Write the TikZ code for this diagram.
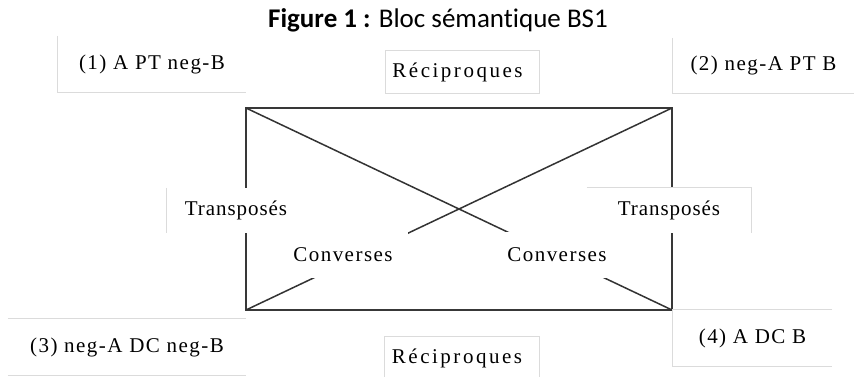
\documentclass[tikz,border=0pt]{standalone}
\usepackage{fontspec}
\setmainfont{Liberation Serif}[LetterSpace=7]
\newfontfamily\titlefont{Carlito}[RawFeature=-liga]
\begin{document}
\begin{tikzpicture}[x=1pt,y=-1pt,
  lbl/.style={font=\fontsize{21}{24}\selectfont, inner sep=0pt, fill=white},
  narrow/.style={font=\fontsize{21}{24}\selectfont\addfontfeatures{LetterSpace=4.5}},
  wide/.style={font=\fontsize{21}{24}\selectfont\addfontfeatures{LetterSpace=12}},
  frame/.style={draw=black!78, line width=2pt},
  diag/.style={draw=black!80, line width=1.5pt},
  faint/.style={draw=black!14, line width=1.2pt}]
\useasboundingbox[fill=white] (0,0) rectangle (854,377);
% title
\node[anchor=base, inner sep=0pt, font=\titlefont\fontsize{27}{30}\selectfont] (title) at (438,28) {\textbf{Figure 1 :} Bloc sémantique BS1};
% corners
\coordinate (TL) at (246,108);
\coordinate (TR) at (672,108);
\coordinate (BL) at (246,310);
\coordinate (BR) at (672,310);
\draw[frame] (TL) -- (TR) -- (BR) -- (BL) -- cycle;
\draw[diag] (TL) -- (BR);
\draw[diag] (TR) -- (BL);
% boxes
\node[lbl, minimum width=188, minimum height=56] (b1) at (152,64) {(1) A PT neg-B};
\node[lbl, wide, minimum width=153, minimum height=42] (rt) at (462.5,72) {Réciproques\kern10pt};
\node[lbl, minimum width=181, minimum height=55] (b2) at (763.5,65.5) {(2) neg-A PT B};
\node[lbl, narrow, minimum width=138, minimum height=45] (tl) at (236,210.5) {Transposés};
\node[lbl, narrow, minimum width=164, minimum height=45] (tr) at (669,210.5) {Transposés};
\node[lbl, minimum width=130, minimum height=46] (c1) at (343,255) {Converses};
\node[lbl, minimum width=130, minimum height=46] (c2) at (557,255) {Converses};
\node[lbl, minimum width=238, minimum height=56] (b3) at (127,347) {(3) neg-A DC neg-B};
\node[lbl, minimum width=159, minimum height=56] (b4) at (752.5,338) {(4) A DC B};
\node[lbl, wide, minimum width=154, minimum height=42] (rb) at (462,358) {Réciproques\kern10pt};
% faint borders
\draw[faint] (b1.north west) -- (b1.south west) -- (b1.south east);
\draw[faint] (rt.north west) rectangle (rt.south east);
\draw[faint] (b2.north west) -- (b2.south west) -- (b2.south east);
\draw[faint] (tl.north west) -- (tl.south west);
\draw[faint] (tr.north west) -- (tr.north east) -- (tr.south east);
\draw[faint] (b3.north west) -- (b3.north east);
\draw[faint] (b3.south west) -- (b3.south east);
\draw[faint] (b4.north east) -- (b4.north west) -- (b4.south west) -- (b4.south east);
\draw[faint] (rb.south west) -- (rb.north west) -- (rb.north east) -- (rb.south east);
\end{tikzpicture}
\end{document}
